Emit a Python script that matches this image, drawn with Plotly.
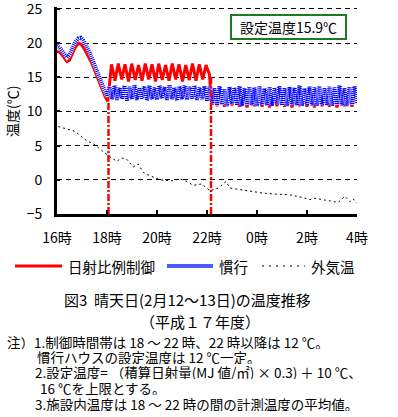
import plotly.graph_objects as go

# ---------------- data (hours after 16:00) ----------------
tick_hours = [0, 2, 4, 6, 8, 10, 12]
tick_labels = ["16時", "18時", "20時", "22時", "0時", "2時", "4時"]
y_ticks = [-5, 0, 5, 10, 15, 20, 25]

# 日射比例制御 (solar proportional control)
red_hours = [0.0, 0.1, 0.2, 0.3, 0.4, 0.5, 0.6, 0.72, 0.85, 0.98, 1.12, 1.25, 1.39, 1.52, 1.65,
             1.79, 1.92, 2.03, 2.08, 2.13,
             2.18, 2.32, 2.45, 2.59, 2.72, 2.86, 2.99, 3.13, 3.26, 3.40, 3.53, 3.67, 3.80, 3.94,
             4.07, 4.21, 4.34, 4.48, 4.61, 4.75, 4.88, 5.02, 5.15, 5.29, 5.42, 5.56, 5.69, 5.83,
             5.96, 6.10, 6.16, 6.22,
             6.25, 6.40, 6.55, 6.70, 6.85, 7.00, 7.15, 7.30, 7.45, 7.60, 7.75, 7.90, 8.05, 8.20,
             8.35, 8.50, 8.65, 8.80, 8.95, 9.10, 9.25, 9.40, 9.55, 9.70, 9.85, 10.00, 10.15,
             10.30, 10.45, 10.60, 10.75, 10.90, 11.05, 11.20, 11.35, 11.50, 11.65, 11.80, 11.95]
red_temp = [18.8, 18.7, 18.3, 17.8, 17.3, 17.5, 18.3, 19.3, 20.0, 19.8, 19.0, 18.1, 17.1, 15.9, 14.6,
            13.4, 12.2, 11.5, 13.0, 15.3,
            16.9, 14.5, 17.0, 14.7, 16.9, 14.4, 17.0, 14.6, 16.8, 14.5, 17.0, 14.7, 16.9, 14.4,
            17.0, 14.6, 16.8, 14.5, 17.0, 14.7, 16.9, 14.4, 16.8, 14.6, 17.0, 14.5, 16.9, 14.7,
            16.8, 15.4, 12.0, 11.0,
            12.9, 10.8, 12.8, 10.7, 13.0, 10.9, 12.7, 10.7, 12.9, 10.6, 12.8, 10.8, 13.0, 10.7,
            12.7, 10.6, 12.9, 10.8, 12.8, 10.7, 13.0, 10.6, 12.7, 10.8, 12.9, 10.7, 12.8,
            10.6, 13.0, 10.8, 12.7, 10.7, 12.9, 10.6, 12.8, 10.8, 12.9, 10.7, 12.7]

# 慣行 (conventional)
blue_hours = [0.0, 0.1, 0.2, 0.3, 0.4, 0.5, 0.6, 0.72, 0.85, 0.95, 1.05, 1.18, 1.3, 1.42, 1.55,
              1.68, 1.8, 1.92,
              2.0, 2.1, 2.2, 2.3, 2.4, 2.5, 2.6, 2.7, 2.8, 2.9, 3.0, 3.1, 3.2, 3.3, 3.4, 3.5,
              3.6, 3.7, 3.8, 3.9, 4.0, 4.1, 4.2, 4.3, 4.4, 4.5, 4.6, 4.7, 4.8, 4.9, 5.0, 5.1,
              5.2, 5.3, 5.4, 5.5, 5.6, 5.7, 5.8, 5.9, 6.0, 6.1, 6.2, 6.3, 6.4, 6.5, 6.6, 6.7,
              6.8, 6.9, 7.0, 7.1, 7.2, 7.3, 7.4, 7.5, 7.6, 7.7, 7.8, 7.9, 8.0, 8.1, 8.2, 8.3,
              8.4, 8.5, 8.6, 8.7, 8.8, 8.9, 9.0, 9.1, 9.2, 9.3, 9.4, 9.5, 9.6, 9.7, 9.8, 9.9,
              10.0, 10.1, 10.2, 10.3, 10.4, 10.5, 10.6, 10.7, 10.8, 10.9, 11.0, 11.1, 11.2,
              11.3, 11.4, 11.5, 11.6, 11.7, 11.8, 11.9, 12.0]
blue_temp = [19.7, 19.4, 18.9, 18.3, 17.9, 18.3, 19.2, 20.1, 20.7, 20.8, 20.4, 19.6, 18.7, 17.6, 16.3,
             15.0, 13.8, 12.8,
             12.2, 13.6, 11.8, 13.8, 11.7, 13.5, 11.9, 13.8, 11.6, 13.6, 11.8, 13.9, 11.7, 13.5,
             11.9, 13.7, 11.6, 13.8, 11.8, 13.5, 11.7, 13.8, 11.9, 13.6, 11.7, 13.9, 11.8, 13.5,
             11.6, 13.7, 11.8, 13.8, 11.7, 13.6, 11.9, 13.8, 11.7, 13.5, 11.8, 13.7, 11.6, 13.6,
             11.2, 13.4, 10.9, 13.7, 11.0, 13.3, 10.8, 13.6, 11.1, 13.5, 10.9, 13.7, 10.8, 13.4,
             11.0, 13.6, 10.9, 13.5, 10.8, 13.7, 11.0, 13.4, 10.9, 13.6, 10.8, 13.5, 11.1, 13.7,
             10.9, 13.4, 10.8, 13.6, 11.0, 13.5, 10.9, 13.8, 10.8, 13.4, 11.0, 13.6, 10.9, 13.5,
             10.8, 13.7, 11.0, 13.4, 10.9, 13.6, 10.8, 13.5, 11.0, 13.8, 10.9, 13.4, 10.8, 13.6,
             11.0, 13.7, 11.2]

# 外気温 (outside air)
out_hours = [0.05, 0.72, 1.12, 1.52, 1.92, 2.12, 2.39, 2.59, 2.79, 3.05, 3.25, 3.45, 3.72, 4.12,
             4.59, 4.92, 5.19, 5.45, 5.79, 6.12, 6.45, 6.76, 6.92, 7.45, 7.85, 8.25, 8.79, 9.32,
             9.72, 10.12, 10.32, 10.79, 11.25, 11.52, 11.72, 11.85, 11.99]
out_temp = [7.8, 7.1, 5.9, 5.1, 3.9, 3.4, 2.7, 3.2, 3.0, 1.9, 2.3, 1.1, 0.6, 0.0,
            -0.15, 0.15, -0.25, -0.8, -0.6, -1.6, -1.2, -0.25, -1.2, -1.5, -1.7, -1.95, -2.1, -2.2,
            -2.5, -2.9, -2.7, -3.0, -3.3, -2.4, -3.2, -2.8, -3.4]

# control period markers
control_hours = [2.06, 6.16]
control_tops = [11.5, 15.3]
y_min = -5
set_temp_label = "設定温度15.9℃"

series_names = ["日射比例制御", "慣行", "外気温"]

# ---------------- figure ----------------
W, H = 398, 417
L, R, T, B = 57, 41, 7, 203
FONT = "Noto Sans CJK JP"
BLUE = "#0000ff"
RED = "#ff0000"
Y_TOP = 25.29


def px(x):
    return (x - L) / (W - L - R)


def py(y):
    return (H - B - y) / (H - T - B)


fig = go.Figure()
fig.add_trace(go.Scatter(x=out_hours, y=out_temp, mode="lines",
                         line=dict(color="black", width=1, dash="2px,3px"),
                         showlegend=False, hoverinfo="skip"))
fig.add_trace(go.Scatter(x=red_hours, y=red_temp, mode="lines",
                         line=dict(color=RED, width=3), showlegend=False))
fig.add_trace(go.Scatter(x=blue_hours, y=blue_temp, mode="lines",
                         line=dict(color="white", width=4), showlegend=False, hoverinfo="skip"))
fig.add_trace(go.Scatter(x=blue_hours, y=blue_temp, mode="lines",
                         line=dict(color=BLUE, width=4, dash="1px,1px"), showlegend=False))
for hx, top in zip(control_hours, control_tops):
    fig.add_trace(go.Scatter(x=[hx, hx], y=[y_min, top], mode="lines",
                             line=dict(color=RED, width=2.5, dash="7px,2px,2px,2px"),
                             showlegend=False, hoverinfo="skip"))

fig.update_xaxes(range=[0, 12], tickvals=tick_hours, ticktext=tick_labels, automargin=False,
                 showgrid=False, zeroline=False, showline=True, linecolor="black", linewidth=3,
                 ticks="inside", ticklen=4, tickwidth=2, tickcolor="black",
                 tickfont=dict(family=FONT, size=14, color="black"), ticklabelstandoff=9,
                 ticklabeloverflow="allow")
fig.update_yaxes(range=[-5.001, Y_TOP], tickvals=y_ticks, automargin=False,
                 showgrid=True, gridcolor="black", gridwidth=1, griddash="5px,4px",
                 zeroline=False, showline=True, linecolor="black", linewidth=3,
                 ticks="inside", ticklen=3, tickwidth=2, tickcolor="black",
                 tickfont=dict(family=FONT, size=14, color="black"), ticklabelstandoff=9,
                 ticklabeloverflow="allow")

shapes = []
ann = []


def text(x, y, t, size=14, xanchor="center", **kw):
    d = dict(x=px(x), y=py(y), xref="paper", yref="paper", text=t, xanchor=xanchor,
             yanchor="middle", showarrow=False, font=dict(family=FONT, size=size, color="black"))
    d.update(kw)
    ann.append(d)


# y-axis title
text(12, 112, "温度(℃)", textangle=-90)
# set temperature box
text(288.5, 27, set_temp_label, bordercolor="#1f7a1f", borderwidth=2, borderpad=0,
     bgcolor="white", width=113, height=22)
# legend
ly = 266
shapes.append(dict(type="line", xref="paper", yref="paper", x0=px(15), x1=px(62), y0=py(ly), y1=py(ly),
                   line=dict(color=RED, width=3)))
shapes.append(dict(type="line", xref="paper", yref="paper", x0=px(167), x1=px(213), y0=py(ly), y1=py(ly),
                   line=dict(color="#4b5cff", width=4)))
shapes.append(dict(type="line", xref="paper", yref="paper", x0=px(262), x1=px(305), y0=py(ly), y1=py(ly),
                   line=dict(color="black", width=1, dash="2px,5px")))
for xs, name in zip([66, 217, 309], series_names):
    text(xs, ly, name, size=14.5, xanchor="left")
# caption
text(187, 299, "図3  晴天日(2月12～13日)の温度推移", size=15)
text(200, 321, "（平成１７年度）", size=15)
notes = [
    (5, 341, "注）1.制御時間帯は 18 ～ 22 時、22 時以降は 12 ℃。"),
    (35, 356, "慣行ハウスの設定温度は 12 ℃一定。"),
    (33, 372, "2.設定温度= （積算日射量(MJ 値/㎡) × 0.3) ＋ 10 ℃、"),
    (38, 387, "16 ℃を上限とする。"),
    (33, 403, "3.施設内温度は 18 ～ 22 時の間の計測温度の平均値。"),
]
for xs, ys, t in notes:
    text(xs, ys, t, size=13.5, xanchor="left", height=15)

fig.update_layout(width=W, height=H, margin=dict(l=L, r=R, t=T, b=B),
                  paper_bgcolor="white", plot_bgcolor="white",
                  shapes=shapes, annotations=ann, showlegend=False)
fig.write_html("out.html", config={"displayModeBar": False},
               post_script="document.body.style.margin='0';")
